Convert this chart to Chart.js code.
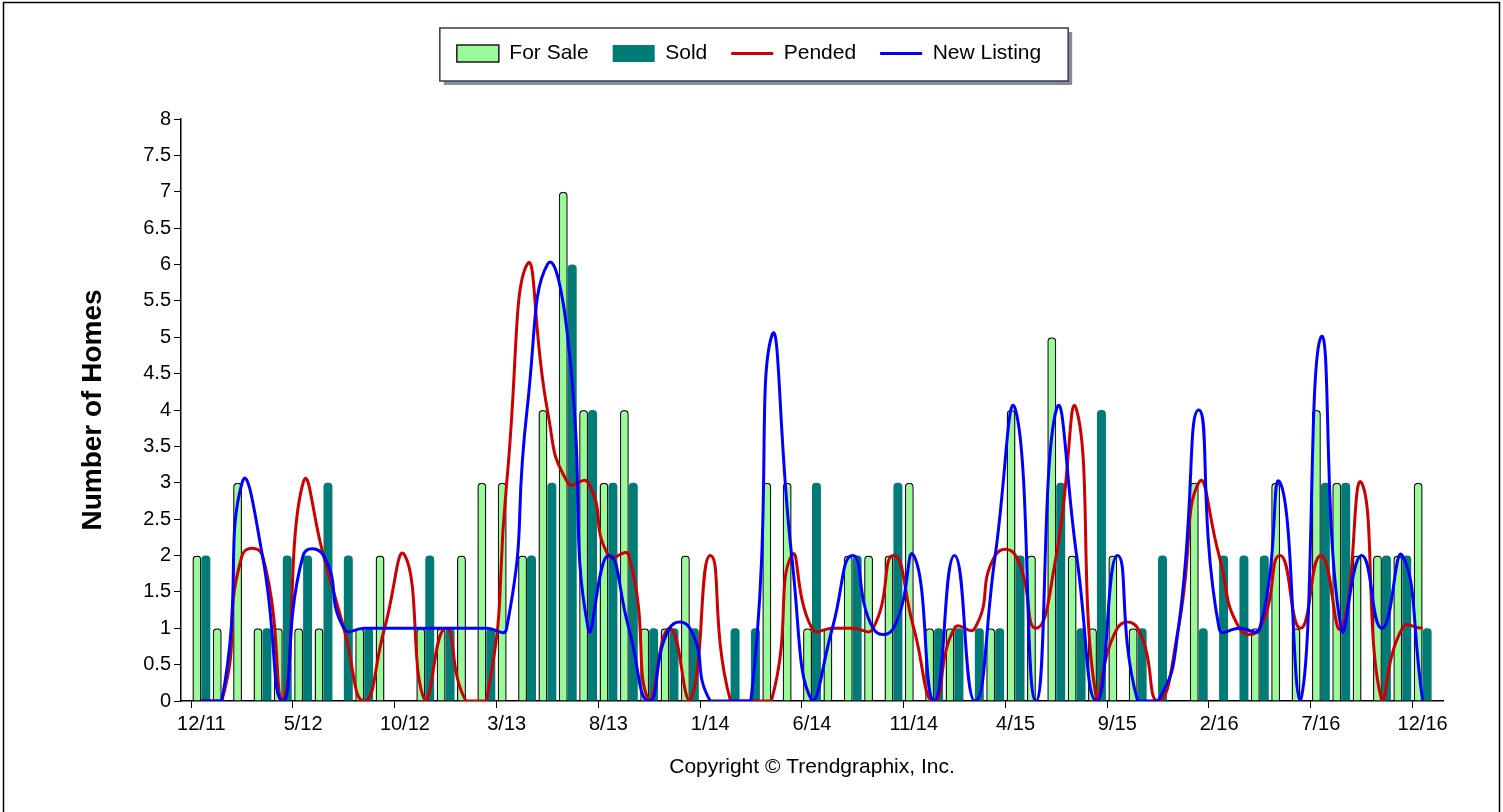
<!DOCTYPE html>
<html>
<head>
<meta charset="utf-8">
<script src="https://cdn.jsdelivr.net/npm/chart.js@4.4.0/dist/chart.umd.min.js"></script>
<style>
  html, body { margin: 0; padding: 0; background: #fff; }
  #wrap { width: 1503px; height: 812px; }
</style>
</head>
<body>
<div id="wrap"><canvas id="chart" width="1503" height="812"></canvas></div>
<script>
// monthly counts, 12/11 .. 12/16
var months = ['12/11','1/12','2/12','3/12','4/12','5/12','6/12','7/12','8/12','9/12','10/12','11/12',
  '12/12','1/13','2/13','3/13','4/13','5/13','6/13','7/13','8/13','9/13','10/13','11/13',
  '12/13','1/14','2/14','3/14','4/14','5/14','6/14','7/14','8/14','9/14','10/14','11/14',
  '12/14','1/15','2/15','3/15','4/15','5/15','6/15','7/15','8/15','9/15','10/15','11/15',
  '12/15','1/16','2/16','3/16','4/16','5/16','6/16','7/16','8/16','9/16','10/16','11/16','12/16'];
var shownTicks = ['12/11','5/12','10/12','3/13','8/13','1/14','6/14','11/14','4/15','9/15','2/16','7/16','12/16'];

var forSale = [2,1,3,1,1,1,1,0,1,2,0,1, 1,2,3,3,2,4,7,4,3,4,1,1, 2,0,0,0,3,3,1,1,2,2,2,3,
  1,1,0,1,4,2,5,2,1,2,1,0, 0,3,0,0,1,3,1,4,3,2,2,2,3];
var sold = [2,0,0,1,2,2,3,2,1,0,0,2, 1,0,1,0,2,3,6,4,3,3,1,1, 1,0,1,1,0,0,3,0,2,0,3,0,
  1,1,1,1,2,0,3,1,4,0,1,2, 0,1,2,2,2,0,0,3,3,0,2,2,1];
var pended = [0,0,2,2,0,3,2,1,0,1,2,0, 1,0,0,3,6,4,3,3,2,2,0,1, 0,2,0,0,0,2,1,1,1,1,2,1,
  0,1,1,2,2,1,2,4,0,1,1,0, 1,3,2,1,1,2,1,2,1,3,0,1,1];
var newListing = [0,0,3,2,0,2,2,1,1,1,1,1, 1,1,1,1,4,6,5,1,2,1,0,1, 1,0,0,0,5,2,0,1,2,1,1,2,
  0,2,0,2,4,0,4,2,0,2,0,0, 1,4,1,1,1,3,0,5,1,2,1,2,0];

// one empty slot at each end of the axis
function pad(arr) { return [null].concat(arr, [null]); }
var labels = [''].concat(months, ['']);

function isShown(label) { return shownTicks.indexOf(label) >= 0; }

var frames = {
  id: 'frames',
  beforeDraw: function (chart) {
    var ctx = chart.ctx;
    ctx.save();
    ctx.fillStyle = '#fff';
    ctx.fillRect(0, 0, chart.width, chart.height);
    ctx.strokeStyle = '#000';
    ctx.lineWidth = 1.5;
    ctx.strokeRect(3.5, 2.5, chart.width - 7, chart.height + 10);

    var boxes = chart.legend.legendHitBoxes;
    if (boxes && boxes.length) {
      var first = boxes[0], last = boxes[boxes.length - 1];
      var x0 = first.left - 17, x1 = last.left + last.width + 27;
      var y0 = first.top - 15, y1 = first.top + first.height + 17;
      ctx.fillStyle = '#8c8c8c';
      ctx.fillRect(x0 + 4, y0 + 4, x1 - x0, y1 - y0);
      ctx.fillStyle = '#fff';
      ctx.fillRect(x0, y0, x1 - x0, y1 - y0);
      ctx.strokeStyle = '#2e3d5c';
      ctx.lineWidth = 1.5;
      ctx.strokeRect(x0, y0, x1 - x0, y1 - y0);
    }
    ctx.restore();
  }
};

var legendSpace = {
  id: 'legendSpace',
  beforeInit: function (chart) {
    var fit = chart.legend.fit;
    chart.legend.fit = function () {
      fit.bind(chart.legend)();
      this.height = 100;
    };
  }
};

Chart.defaults.font.family = "'Liberation Sans', Arial, sans-serif";
Chart.defaults.font.size = 20;
Chart.defaults.color = '#000';

new Chart(document.getElementById('chart'), {
  type: 'bar',
  data: {
    labels: labels,
    datasets: [
      {
        label: 'For Sale',
        data: pad(forSale),
        backgroundColor: '#98fb98',
        borderColor: '#1a1a1a',
        borderWidth: 1.5,
        borderRadius: {topLeft: 4, topRight: 4},
        borderSkipped: 'bottom',
        pointStyle: 'rect',
        order: 2
      },
      {
        label: 'Sold',
        data: pad(sold),
        backgroundColor: '#007b76',
        borderColor: '#007b76',
        borderWidth: 0,
        borderRadius: {topLeft: 4, topRight: 4},
        borderSkipped: 'bottom',
        pointStyle: 'rect',
        order: 2
      },
      {
        type: 'line',
        label: 'Pended',
        data: pad(pended),
        borderColor: '#cc0000',
        backgroundColor: '#cc0000',
        borderWidth: 3,
        pointRadius: 0,
        pointStyle: 'line',
        tension: 0.55,
        fill: false,
        order: 1
      },
      {
        type: 'line',
        label: 'New Listing',
        data: pad(newListing),
        borderColor: '#0000ff',
        backgroundColor: '#0000ff',
        borderWidth: 3,
        pointRadius: 0,
        pointStyle: 'line',
        tension: 0.55,
        fill: false,
        order: 0
      }
    ]
  },
  options: {
    responsive: false,
    devicePixelRatio: 1,
    animation: false,
    layout: { padding: { left: 55, right: 60, top: 19, bottom: 20 } },
    datasets: {
      bar: { categoryPercentage: 0.88, barPercentage: 1.0 }
    },
    plugins: {
      legend: {
        position: 'top',
        labels: {
          usePointStyle: true,
          pointStyleWidth: 42,
          boxHeight: 17,
          padding: 24,
          font: { size: 21 },
          sort: function (a, b) { return a.datasetIndex - b.datasetIndex; }
        }
      },
      tooltip: { enabled: false }
    },
    scales: {
      x: {
        offset: false,
        afterFit: function (scale) { scale.height = 91; },
        border: { display: true, color: '#000', width: 1.5 },
        grid: {
          drawOnChartArea: false,
          drawTicks: true,
          tickLength: 7,
          tickColor: function (c) { return isShown(labels[c.index]) ? '#000' : 'rgba(0,0,0,0)'; }
        },
        ticks: {
          autoSkip: false,
          maxRotation: 0,
          padding: 4,
          callback: function (v) {
            var l = this.getLabelForValue(v);
            return isShown(l) ? l : '';
          }
        },
        title: {
          display: true,
          text: 'Copyright © Trendgraphix, Inc.',
          font: { size: 21 },
          padding: { top: 4, bottom: 12 }
        }
      },
      y: {
        min: 0,
        max: 8,
        afterFit: function (scale) { scale.width = 126; },
        border: { display: true, color: '#000', width: 1.5 },
        grid: { drawOnChartArea: false, tickLength: 7, tickColor: '#000' },
        ticks: {
          stepSize: 0.5,
          padding: 3,
          callback: function (v) { return String(Math.round(v * 10) / 10); }
        },
        title: {
          display: true,
          text: 'Number of Homes',
          font: { size: 28, weight: 'bold' },
          padding: { top: 21, bottom: 0 }
        }
      }
    }
  },
  plugins: [frames, legendSpace]
});
</script>
</body>
</html>
